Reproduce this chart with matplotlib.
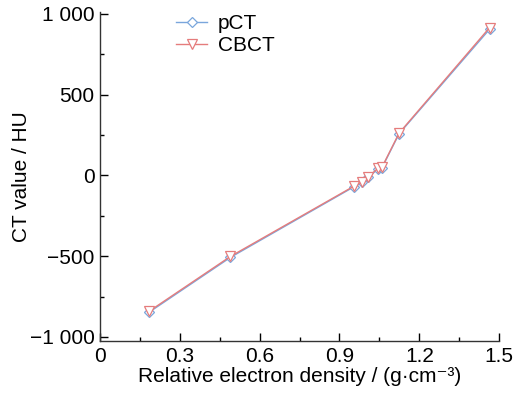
import matplotlib
matplotlib.use("Agg")
import matplotlib.pyplot as plt
from matplotlib.ticker import MultipleLocator

plt.rcParams['font.family'] = ['Liberation Sans', 'DejaVu Sans']
plt.rcParams['axes.unicode_minus'] = True

density = [0.184, 0.49, 0.955, 0.985, 1.008, 1.045, 1.06, 1.124, 1.464]
pct = [-848, -508, -70, -42, -12, 40, 48, 258, 905]
cbct = [-842, -502, -66, -38, -8, 44, 52, 262, 915]

xticks = [0, 0.3, 0.6, 0.9, 1.2, 1.5]
xticklabels = ['0', '0.3', '0.6', '0.9', '1.2', '1.5']
yticks = [-1000, -500, 0, 500, 1000]
yticklabels = ['\u22121 000', '\u2212500', '0', '500', '1 000']

fig = plt.figure(figsize=(5.26, 3.96), dpi=100)
ax = fig.add_axes([0.190, 0.139, 0.759, 0.830])

blue = '#7aa6dc'
red = '#e57c7c'
ax.plot(density, pct, color=blue, lw=1.0, marker='D', ms=5.5,
        mfc='white', mec=blue, mew=0.9, label='pCT')
ax.plot(density, cbct, color=red, lw=1.0, marker='v', ms=6.5,
        mfc='white', mec=red, mew=0.9, label='CBCT')

ax.set_xlim(0, 1.5)
ax.set_ylim(-1025, 1010)
ax.set_xticks(xticks)
ax.set_xticklabels(xticklabels)
ax.set_yticks(yticks)
ax.set_yticklabels(yticklabels)
ax.xaxis.set_minor_locator(MultipleLocator(0.15))
ax.yaxis.set_minor_locator(MultipleLocator(250))
ax.tick_params(which='major', direction='in', length=6, width=1, labelsize=15, pad=4)
ax.tick_params(which='minor', direction='in', length=3, width=1)
for s in ['top', 'right']:
    ax.spines[s].set_visible(False)
for s in ['left', 'bottom']:
    ax.spines[s].set_linewidth(1.0)
    ax.spines[s].set_color('#333333')

ax.set_xlabel('Relative electron density / (g\u00b7cm\u207b\u00b3)', fontsize=15, labelpad=1)
ax.set_ylabel('CT value / HU', fontsize=15, labelpad=-1)

ax.legend(loc='upper left', bbox_to_anchor=(0.17, 1.02), frameon=False,
          fontsize=15, handlelength=1.5, handletextpad=0.5, labelspacing=0.15,
          borderaxespad=0)

fig.savefig('out.png', dpi=100)
